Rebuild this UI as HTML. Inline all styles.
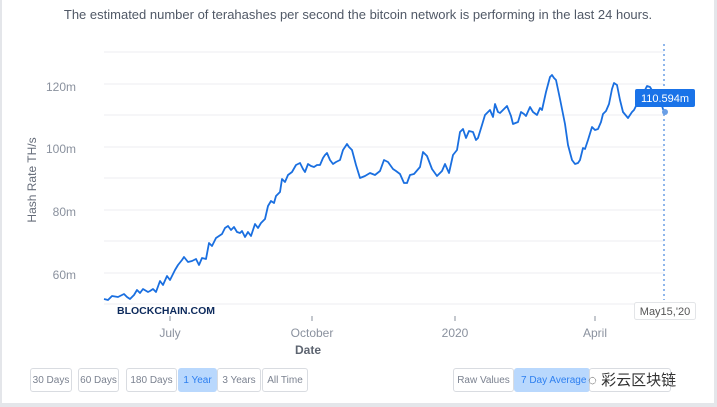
<!DOCTYPE html>
<html><head><meta charset="utf-8"><style>
body{margin:0;background:#fff;font-family:"Liberation Sans",sans-serif;}
.w{position:relative;width:717px;height:407px;overflow:hidden;border-left:2px solid #e4e6ea;border-right:3px solid #e4e6ea;box-sizing:border-box}
.b{position:absolute;top:368px;height:24px;border:1px solid #d9dce1;border-radius:3px;font-size:10px;color:#7b8290;line-height:24px;text-align:center;box-sizing:border-box;background:#fff}
.on{background:#b9d8fd;color:#2d7ff0;border-color:#b9d8fd}
</style></head><body><div class="w">
<div style="position:absolute;left:0;right:0;top:7px;text-align:center;font-size:13px;color:#505866">The estimated number of terahashes per second the bitcoin network is performing in the last 24 hours.</div>
<svg width="717" height="407" style="position:absolute;left:-2px;top:0">
<g stroke="#eceef1" stroke-width="1">
<line x1="104" x2="664" y1="52" y2="52"/><line x1="104" x2="664" y1="84" y2="84"/><line x1="104" x2="664" y1="115" y2="115"/><line x1="104" x2="664" y1="147" y2="147"/><line x1="104" x2="664" y1="178" y2="178"/><line x1="104" x2="664" y1="210" y2="210"/><line x1="104" x2="664" y1="241" y2="241"/><line x1="104" x2="664" y1="273" y2="273"/><line x1="104" x2="664" y1="304" y2="304"/>
</g>
<g fill="#8a919e" font-size="12" text-anchor="end">
<text x="76" y="91">120m</text><text x="76" y="153">100m</text><text x="76" y="216">80m</text><text x="76" y="279">60m</text>
</g>
<text transform="translate(36,180) rotate(-90)" text-anchor="middle" font-size="12" fill="#666d7a">Hash Rate TH/s</text>
<g stroke="#8a919e"><line x1="170" x2="170" y1="316" y2="321"/><line x1="312" x2="312" y1="316" y2="321"/><line x1="455" x2="455" y1="316" y2="321"/><line x1="595" x2="595" y1="316" y2="321"/></g>
<g fill="#8a919e" font-size="12" text-anchor="middle"><text x="170" y="337">July</text><text x="312" y="337">October</text><text x="455" y="337">2020</text><text x="595" y="337">April</text></g>
<text x="308" y="354" text-anchor="middle" font-size="12" fill="#5d6470" font-weight="bold">Date</text>
<text x="117" y="314" font-size="10.5" font-weight="bold" fill="#0d2a5c">BLOCKCHAIN.COM</text>
<line x1="664" x2="664" y1="44" y2="300" stroke="#6a9fe6" stroke-width="1.5" stroke-dasharray="2,3"/>
<polyline fill="none" stroke="#1a6fe0" stroke-width="1.8" stroke-linejoin="round" points="104,299 108,300 112,296 118,297 124,294 127,297 130,299 134,295 137,290 140,293 143,289 148,292 150,291 153,289 156,292 160,281 163,285 167,276 170,280 175,270 178,265 182,260 184,257 188,262 192,261 196,259 199,265 202,258 206,259 209,243 212,246 216,238 219,236 222,234 225,228 228,226 231,230 234,227 237,232 240,233 242,231 245,237 248,232 251,236 255,224 258,228 261,223 265,219 268,206 271,201 274,203 276,196 280,192 282,179 285,182 288,175 292,172 296,165 300,163 303,169 305,172 308,164 311,166 314,167 317,165 320,165 323,158 325,155 327,153 330,160 333,164 336,162 340,160 343,150 347,144 349,147 352,150 356,165 360,178 365,176 370,173 375,175 380,171 384,160 388,162 393,169 396,171 400,174 404,183 407,183 410,175 414,174 420,167 423,152 427,156 432,169 437,176 442,171 445,164 449,173 453,155 457,150 460,132 463,129 466,138 469,131 473,132 476,140 478,138 482,125 485,115 490,110 493,117 495,104 498,112 500,113 503,110 507,106 511,116 513,124 518,122 521,112 524,114 526,116 530,107 533,112 537,115 540,108 542,110 546,92 550,77 552,75 554,78 556,80 560,99 565,124 568,145 572,160 575,164 578,163 580,160 583,148 585,149 588,140 592,127 595,130 598,129 601,122 603,114 606,111 609,104 612,89 614,83 617,85 620,100 623,112 628,118 632,112 634,110 637,104 640,100 645,90 647,86 650,87 653,92 655,90 657,96 660,100 664,112"/>
<circle cx="665" cy="112" r="3" fill="#6a9fe6"/>
<rect x="635" y="89" width="60" height="18" rx="2" fill="#1a73e8"/>
<text x="665" y="102" text-anchor="middle" font-size="11" fill="#fff">110.594m</text>
<rect x="634.5" y="302.5" width="61" height="17" rx="2" fill="#fff" stroke="#e3e5e8"/>
<text x="665" y="315" text-anchor="middle" font-size="11" fill="#555">May15,'20</text>
</svg>
<div class="b" style="left:28px;width:42px">30 Days</div>
<div class="b" style="left:76px;width:41px">60 Days</div>
<div class="b" style="left:124px;width:51px">180 Days</div>
<div class="b on" style="left:176px;width:39px">1 Year</div>
<div class="b" style="left:215px;width:44px">3 Years</div>
<div class="b" style="left:260px;width:46px">All Time</div>
<div class="b" style="left:451px;width:61px">Raw Values</div>
<div class="b on" style="left:512px;width:76px;text-align:left;padding-left:6px;overflow:hidden;white-space:nowrap">7 Day Average</div>
<div class="b" style="left:587px;width:82px"></div>
<div style="position:absolute;left:586px;top:369px;font-size:15px;color:#333;font-family:'Liberation Sans','Noto Sans CJK SC',sans-serif">◌ 彩云区块链</div>
<div style="position:absolute;left:0;right:0;top:403px;height:4px;background:#e4e6ea"></div>
</div></body></html>
